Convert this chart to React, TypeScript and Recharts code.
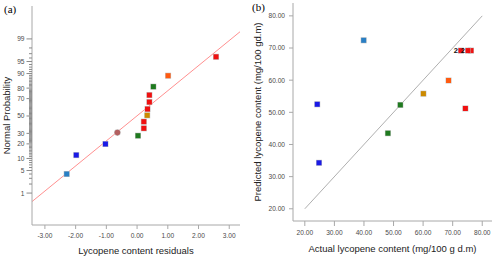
import { ScatterChart, Scatter, XAxis, YAxis, ReferenceLine, LabelList } from "recharts";

const FONT = '"Liberation Sans", Arial, sans-serif';
const AXIS = "#a8a8a8";
const TICK_TEXT = "#4a4a4a";

// colours used by the design points
const LIGHT_BLUE = "#2a7fc4";
const BLUE = "#1a1ae6";
const BROWN = "#b35f5f";
const GREEN = "#1f7a1f";
const RED = "#f01010";
const GOLD = "#cc8a00";
const ORANGE = "#ff5a10";

// ---- (a) normal probability plot: residual r, probability p (%)
const RESID_TICKS = [-3, -2, -1, 0, 1, 2, 3];
const PROB_LABELS = [1, 5, 10, 20, 30, 50, 70, 80, 90, 95, 99];

const aLightBlue = [{ r: -2.29, p: 4 }];
const aBlue = [
    { r: -1.98, p: 11.9 },
    { r: -1.03, p: 19.9 }
];
const aBrown = [{ r: -0.64, p: 30.8 }];
const aGreen = [
    { r: 0.03, p: 27.6 },
    { r: 0.53, p: 81.2 }
];
const aRed = [
    { r: 0.22, p: 35.5 },
    { r: 0.22, p: 43.2 },
    { r: 0.34, p: 58.3 },
    { r: 0.4, p: 66.3 },
    { r: 0.4, p: 73.6 },
    { r: 2.57, p: 96.3 }
];
const aGold = [{ r: 0.33, p: 50.8 }];
const aOrange = [{ r: 1.01, p: 88.8 }];
const aFit = [
    { r: -3.42, p: 0.49 },
    { r: 3.35, p: 99.45 }
];

// ---- (b) predicted vs actual
const CONTENT_TICKS = [20, 30, 40, 50, 60, 70, 80];

const bLightBlue = [{ x: 39.9, y: 72.4 }];
const bBlue = [
    { x: 24.2, y: 52.5 },
    { x: 24.8, y: 34.3 }
];
const bGreen = [
    { x: 52.3, y: 52.3 },
    { x: 48.1, y: 43.5 }
];
const bGold = [{ x: 60.1, y: 55.8 }];
const bOrange = [{ x: 68.6, y: 59.9 }];
const bRed = [
    { x: 74.3, y: 51.2 },
    { x: 76.2, y: 69.2 }
];
const bRedDouble = [
    { x: 72.8, y: 69.2, n: 2 },
    { x: 75.2, y: 69.2, n: 2 }
];
const bDiagonal = [
    { x: 20, y: 20 },
    { x: 80, y: 80 }
];

// inverse normal cdf (Acklam), used as the probability-axis transform
function probit(p: number) {
    const a = [-39.69683028665376, 220.9460984245205, -275.9285104469687, 138.357751867269, -30.66479806614716, 2.506628277459239];
    const b = [-54.47609879822406, 161.5858368580409, -155.6989798598866, 66.80131188771972, -13.28068155288572];
    const c = [-0.007784894002430293, -0.3223964580411365, -2.400758277161838, -2.549732539343734, 4.374664141464968, 2.938163982698783];
    const d = [0.007784695709041462, 0.3224671290700398, 2.445134137142996, 3.754408661907416];
    const pl = 0.02425;
    if (p < pl) {
        const q = Math.sqrt(-2 * Math.log(p));
        return (((((c[0] * q + c[1]) * q + c[2]) * q + c[3]) * q + c[4]) * q + c[5]) / ((((d[0] * q + d[1]) * q + d[2]) * q + d[3]) * q + 1);
    }
    if (p <= 1 - pl) {
        const q = p - 0.5;
        const r = q * q;
        return (((((a[0] * r + a[1]) * r + a[2]) * r + a[3]) * r + a[4]) * r + a[5]) * q / (((((b[0] * r + b[1]) * r + b[2]) * r + b[3]) * r + b[4]) * r + 1);
    }
    const q = Math.sqrt(-2 * Math.log(1 - p));
    return -(((((c[0] * q + c[1]) * q + c[2]) * q + c[3]) * q + c[4]) * q + c[5]) / ((((d[0] * q + d[1]) * q + d[2]) * q + d[3]) * q + 1);
}

const toZ = (pts: { r: number; p: number }[]) => pts.map((d) => ({ r: d.r, z: probit(d.p / 100) }));

const minorProb: number[] = [];
for (let i = 2; i <= 98; i++) if (!PROB_LABELS.includes(i)) minorProb.push(i);
const PROB_TICKS = [...PROB_LABELS, ...minorProb].map((p) => probit(p / 100));

function ProbTick(props: any) {
    const { x, y, payload } = props;
    const label = PROB_LABELS.find((p) => Math.abs(probit(p / 100) - payload.value) < 1e-9);
    if (label === undefined)
        return <line x1={x - 3} x2={x} y1={y} y2={y} stroke="#8a8a8a" strokeWidth={1} />;
    return (
        <g>
            <line x1={x - 5.5} x2={x} y1={y} y2={y} stroke="#8a8a8a" strokeWidth={1} />
            <text x={x - 7.5} y={y} textAnchor="end" dominantBaseline="central" fontSize={6.6} fill={TICK_TEXT} fontFamily={FONT}>
                {label}
            </text>
        </g>
    );
}

const square = (color: string) => (props: any) => (
    <g>
        <rect x={props.cx - 3} y={props.cy - 3} width={6} height={6} fill="#c4c4c4" />
        <rect x={props.cx - 2.5} y={props.cy - 2.5} width={5} height={5} fill={color} />
    </g>
);

const dot = (color: string) => (props: any) => (
    <g>
        <circle cx={props.cx} cy={props.cy} r={3.3} fill="#c4c4c4" />
        <circle cx={props.cx} cy={props.cy} r={2.8} fill={color} />
    </g>
);

const tickStyle = { fontSize: 6.6, fill: TICK_TEXT, fontFamily: FONT };
const titleStyle = { fontSize: 9.5, fill: "#222", fontFamily: FONT };

function ProbabilityPlot() {
    return (
        <ScatterChart width={250} height={259} margin={{ top: 6, right: 10, bottom: 0, left: 0 }}>
            <XAxis
                dataKey="r"
                type="number"
                domain={[-3.42, 3.35]}
                allowDataOverflow
                ticks={RESID_TICKS}
                interval={0}
                tickFormatter={(v) => v.toFixed(2)}
                height={34}
                tickSize={4}
                tickMargin={4.5}
                stroke={AXIS}
                tick={tickStyle}
                label={{ value: "Lycopene content residuals", position: "insideBottom", offset: 5, style: titleStyle }}
            />
            <YAxis
                dataKey="z"
                type="number"
                domain={[-3.29, 3.32]}
                allowDataOverflow
                ticks={PROB_TICKS}
                interval={0}
                width={32}
                tickSize={0}
                tickMargin={0}
                tickLine={false}
                stroke={AXIS}
                tick={<ProbTick />}
                label={{ value: "Normal Probability", angle: -90, position: "insideLeft", offset: 7, style: { ...titleStyle, textAnchor: "middle" } }}
            />
            <XAxis xAxisId="top" orientation="top" type="number" domain={[0, 1]} height={0} tick={false} tickLine={false} stroke={AXIS} />
            <YAxis yAxisId="right" orientation="right" type="number" domain={[0, 1]} width={0} tick={false} tickLine={false} stroke={AXIS} />
            <ReferenceLine
                segment={toZ(aFit).map((d) => ({ x: d.r, y: d.z }))}
                stroke="#ff9090"
                strokeWidth={1}
                ifOverflow="hidden"
            />
            <Scatter data={toZ(aLightBlue)} shape={square(LIGHT_BLUE)} isAnimationActive={false} />
            <Scatter data={toZ(aBlue)} shape={square(BLUE)} isAnimationActive={false} />
            <Scatter data={toZ(aBrown)} shape={dot(BROWN)} isAnimationActive={false} />
            <Scatter data={toZ(aGreen)} shape={square(GREEN)} isAnimationActive={false} />
            <Scatter data={toZ(aRed)} shape={square(RED)} isAnimationActive={false} />
            <Scatter data={toZ(aGold)} shape={square(GOLD)} isAnimationActive={false} />
            <Scatter data={toZ(aOrange)} shape={square(ORANGE)} isAnimationActive={false} />
        </ScatterChart>
    );
}

function PredictedActualPlot() {
    return (
        <ScatterChart width={250} height={259} margin={{ top: 3, right: 8, bottom: 0, left: 0 }}>
            <XAxis
                dataKey="x"
                type="number"
                domain={[16, 83.3]}
                allowDataOverflow
                ticks={CONTENT_TICKS}
                interval={0}
                tickFormatter={(v) => v.toFixed(2)}
                height={38}
                tickSize={5}
                tickMargin={4}
                stroke={AXIS}
                tick={tickStyle}
                label={{ value: "Actual lycopene content (mg/100 g d.m)", position: "insideBottom", offset: 7, style: titleStyle }}
            />
            <YAxis
                dataKey="y"
                type="number"
                domain={[16.2, 84]}
                allowDataOverflow
                ticks={CONTENT_TICKS}
                interval={0}
                tickFormatter={(v) => v.toFixed(2)}
                width={43}
                tickSize={4}
                tickMargin={4}
                stroke={AXIS}
                tick={tickStyle}
                label={{ value: "Predicted lycopene content (mg/100 gd.m)", angle: -90, position: "insideLeft", offset: 8, style: { ...titleStyle, textAnchor: "middle" } }}
            />
            <XAxis xAxisId="top" orientation="top" type="number" domain={[0, 1]} height={0} tick={false} tickLine={false} stroke={AXIS} />
            <YAxis yAxisId="right" orientation="right" type="number" domain={[0, 1]} width={0} tick={false} tickLine={false} stroke={AXIS} />
            <ReferenceLine segment={bDiagonal} stroke="#9a9a9a" strokeWidth={0.8} ifOverflow="hidden" />
            <Scatter data={bLightBlue} shape={square(LIGHT_BLUE)} isAnimationActive={false} />
            <Scatter data={bBlue} shape={square(BLUE)} isAnimationActive={false} />
            <Scatter data={bGreen} shape={square(GREEN)} isAnimationActive={false} />
            <Scatter data={bGold} shape={square(GOLD)} isAnimationActive={false} />
            <Scatter data={bOrange} shape={square(ORANGE)} isAnimationActive={false} />
            <Scatter data={bRed} shape={square(RED)} isAnimationActive={false} />
            <Scatter data={bRedDouble} shape={square(RED)} isAnimationActive={false}>
                <LabelList dataKey="n" position="left" offset={-1.5} fontSize={7.5} fill="#111" fontFamily={FONT} fontWeight="bold" />
            </Scatter>
        </ScatterChart>
    );
}

export default function App() {
    return (
        <div style={{ position: "absolute", left: 0, top: 0, width: 500, height: 259, background: "#fff" }}>
            <div style={{ position: "absolute", left: 0, top: 0 }}>
                <ProbabilityPlot />
            </div>
            <div style={{ position: "absolute", left: 250, top: 0 }}>
                <PredictedActualPlot />
            </div>
            <div style={{ position: "absolute", left: 4, top: 4, font: '11px/11px "Liberation Serif", serif' }}>(a)</div>
            <div style={{ position: "absolute", left: 252, top: 2, font: '11px/11px "Liberation Serif", serif' }}>(b)</div>
        </div>
    );
}
